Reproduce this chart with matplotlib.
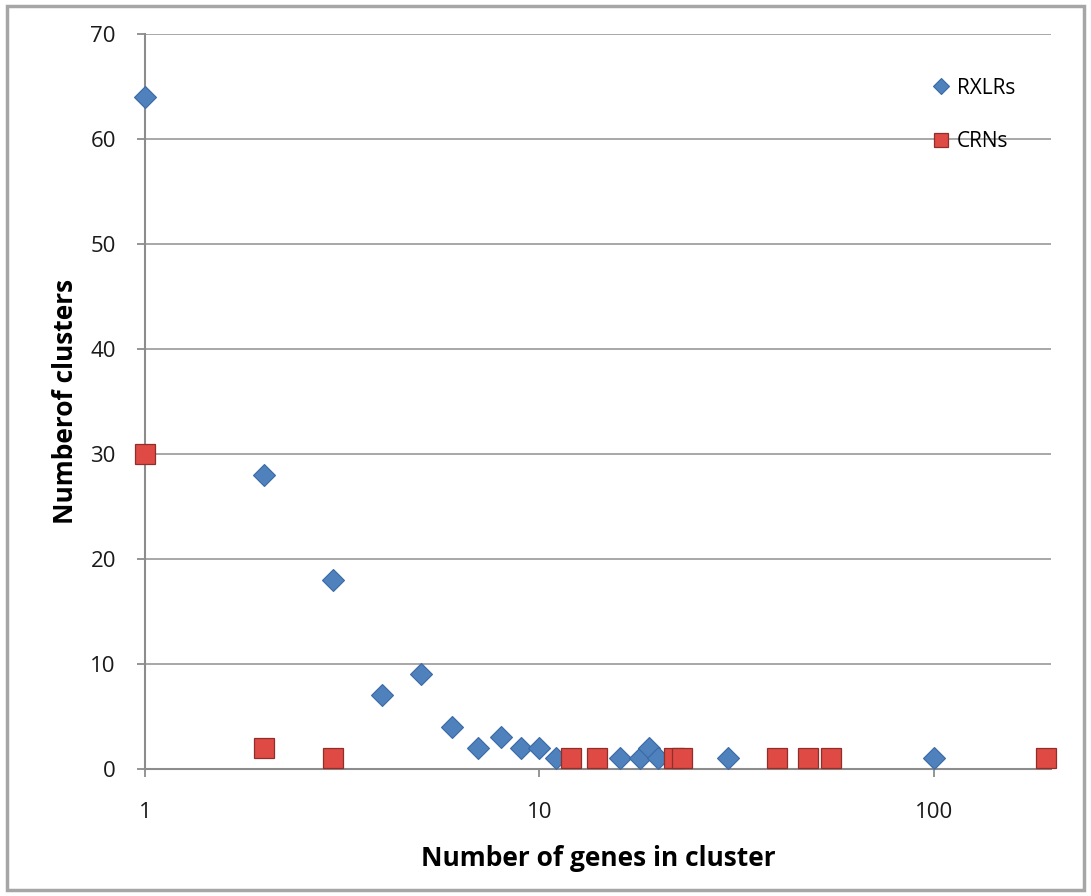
import numpy as np
import matplotlib.pyplot as plt
from matplotlib.patches import FancyBboxPatch

plt.rcParams['font.family'] = ['Open Sans', 'DejaVu Sans']

# RXLR clusters: cluster size -> number of clusters
rxlr_size = [1, 2, 3, 4, 5, 6, 7, 8, 9, 10, 11, 16, 18, 19, 20, 30, 100]
rxlr_count = [64, 28, 18, 7, 9, 4, 2, 3, 2, 2, 1, 1, 1, 2, 1, 1, 1]

# CRN clusters
crn_size = [1, 2, 3, 12, 14, 22, 23, 40, 48, 55, 193]
crn_count = [30, 2, 1, 1, 1, 1, 1, 1, 1, 1, 1]

yticks = [0, 10, 20, 30, 40, 50, 60, 70]

fig = plt.figure(figsize=(10.91, 8.96), dpi=100)
ax = fig.add_axes([0.133, 0.142, 0.830, 0.820])

# outer frame of the chart
fig.patches.append(FancyBboxPatch((0.006, 0.007), 0.988, 0.986,
                                  boxstyle="square,pad=0", transform=fig.transFigure,
                                  facecolor='none', edgecolor='#a6a6a6', linewidth=2.5))

ax.set_xscale('log')
ax.set_xlim(1, 198)
ax.set_ylim(0, 70)
ax.set_yticks(yticks)
ax.yaxis.grid(True, color='#a0a0a0', linewidth=1.3)
ax.set_axisbelow(True)

ax.plot(rxlr_size, rxlr_count, linestyle='none', marker='D', markersize=11,
        markerfacecolor='#4f81bd', markeredgecolor='#3a6aa6', markeredgewidth=0.8,
        label='RXLRs', clip_on=False, zorder=3)
ax.plot(crn_size, crn_count, linestyle='none', marker='s', markersize=14,
        markerfacecolor='#e04a45', markeredgecolor='#8e2f2c', markeredgewidth=0.9,
        label='CRNs', clip_on=False, zorder=3)

ax.set_xticks([1, 10, 100])
ax.set_xticklabels(['1', '10', '100'])
ax.xaxis.set_minor_locator(plt.NullLocator())

for s in ['top', 'right']:
    ax.spines[s].set_visible(False)
for s in ['left', 'bottom']:
    ax.spines[s].set_color('#8c8c8c')
    ax.spines[s].set_linewidth(1.5)

ax.tick_params(axis='both', colors='#8c8c8c', width=1.3, length=6, labelsize=16,
               labelcolor='#1a1a1a')
ax.tick_params(axis='x', pad=18)
ax.tick_params(axis='y', pad=15)

ax.set_xlabel('Number of genes in cluster', fontsize=19, fontweight='bold', labelpad=16)
ax.set_ylabel('Numberof clusters', fontsize=19, fontweight='bold', labelpad=8)

leg = ax.legend(loc='upper right', bbox_to_anchor=(0.982, 0.966), frameon=False,
                fontsize=15, handlelength=0.6, handletextpad=0.5, labelspacing=1.55,
                markerscale=0.75)

fig.savefig('out.png', dpi=100)
